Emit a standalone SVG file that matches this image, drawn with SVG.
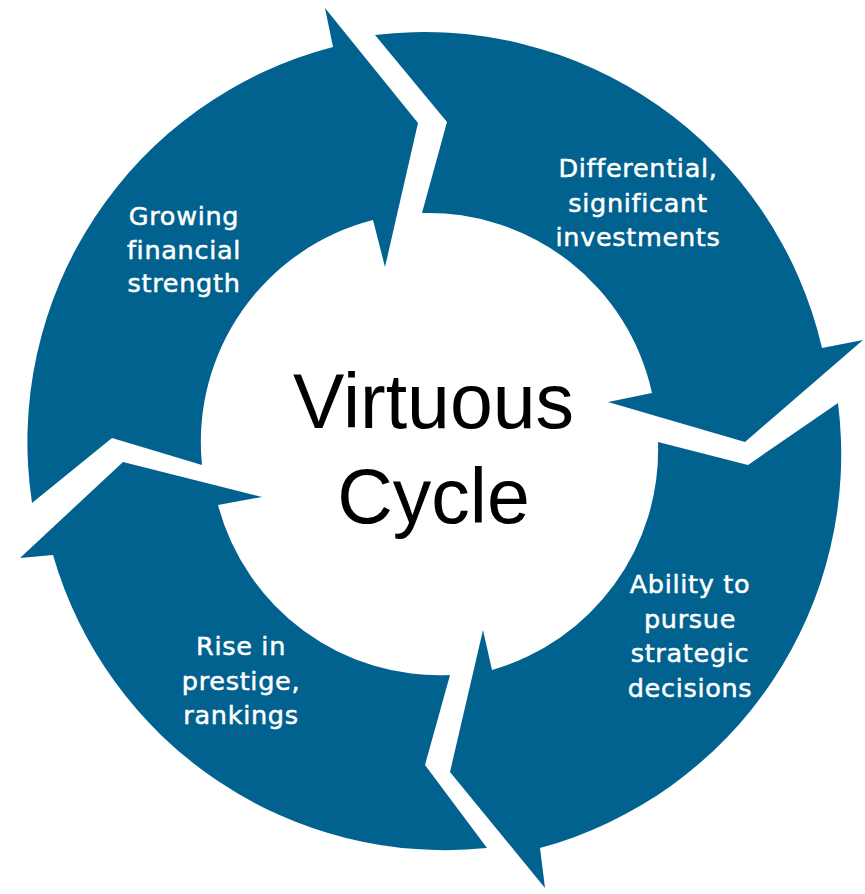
<svg xmlns="http://www.w3.org/2000/svg" width="865" height="894" viewBox="0 0 865 894">
<style>
.seg{fill:#02628f;stroke:none}
.lbl{font-family:"DejaVu Sans","Verdana",sans-serif;font-size:25.5px;letter-spacing:0.7px;fill:#ffffff;stroke:#ffffff;stroke-width:0.5px;text-anchor:middle}
.ctr{font-family:"Liberation Sans","Arial",sans-serif;font-size:77px;fill:#000000;text-anchor:middle}
</style>
<rect width="865" height="894" fill="#ffffff"/>
<g id="connectors"/>
<g id="node-growing">
<path class="seg" d="M32,503 A408,408 0 0 1 333,47 L325,8 L418,123 L385,267 L373,220 A229,229 0 0 0 202,465 L112,438 Z"/>
<text class="lbl" x="184" y="225">Growing</text>
<text class="lbl" x="184" y="258.5">financial</text>
<text class="lbl" x="184" y="292">strength</text>
</g>
<g id="node-differential">
<path class="seg" d="M375,35 A408,408 0 0 1 822,348 L863,340 L745,442 L608,402 L652,393 A229,229 0 0 0 422,213 L447,122 Z"/>
<text class="lbl" x="638" y="177">Differential,</text>
<text class="lbl" x="638" y="211.5">significant</text>
<text class="lbl" x="638" y="246">investments</text>
</g>
<g id="node-ability">
<path class="seg" d="M838,403 A408,408 0 0 1 540,848 L545,888 L450,772 L483,630 L492,670 A229,229 0 0 0 658,442 L748,465 Z"/>
<text class="lbl" x="690" y="593">Ability to</text>
<text class="lbl" x="690" y="627.5">pursue</text>
<text class="lbl" x="690" y="662">strategic</text>
<text class="lbl" x="690" y="696.5">decisions</text>
</g>
<g id="node-rise">
<path class="seg" d="M487,848 A408,408 0 0 1 53,555 L20,558 L123,462 L262,497 L218,505 A229,229 0 0 0 450,675 L425,765 Z"/>
<text class="lbl" x="241" y="655">Rise in</text>
<text class="lbl" x="241" y="689.5">prestige,</text>
<text class="lbl" x="241" y="724">rankings</text>
</g>
<g id="node-center">
<text class="ctr" x="433.5" y="428">Virtuous</text>
<text class="ctr" x="433.5" y="523">Cycle</text>
</g>
</svg>
